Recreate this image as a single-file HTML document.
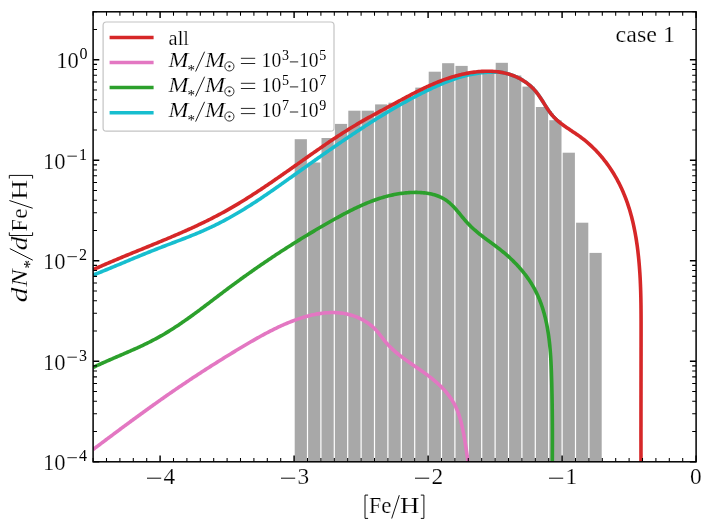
<!DOCTYPE html>
<html><head><meta charset="utf-8"><title>plot</title>
<style>
html,body{margin:0;padding:0;background:#fff;}
svg{display:block;will-change:transform;transform:translateZ(0);}
text{font-family:"Liberation Serif",serif;fill:#000;stroke:#fff;stroke-width:0.2px;}
.sm{stroke:none;}
.it{font-style:italic;}
</style></head><body>
<svg width="714" height="531" viewBox="0 0 714 531">
<rect x="0" y="0" width="714" height="531" fill="#fff"/>
<defs><clipPath id="ax"><rect x="93.10" y="11.80" width="603.00" height="450.00"/></clipPath></defs>
<g fill="#a8a8a8">
<rect x="294.70" y="139.20" width="12.20" height="322.60"/>
<rect x="308.10" y="162.50" width="12.20" height="299.30"/>
<rect x="321.50" y="138.00" width="12.20" height="323.80"/>
<rect x="334.90" y="123.90" width="12.20" height="337.90"/>
<rect x="348.30" y="110.70" width="12.20" height="351.10"/>
<rect x="361.70" y="110.70" width="12.20" height="351.10"/>
<rect x="375.10" y="104.40" width="12.20" height="357.40"/>
<rect x="388.50" y="102.70" width="12.20" height="359.10"/>
<rect x="401.90" y="97.00" width="12.20" height="364.80"/>
<rect x="415.30" y="87.60" width="12.20" height="374.20"/>
<rect x="428.70" y="71.70" width="12.20" height="390.10"/>
<rect x="442.10" y="63.20" width="12.20" height="398.60"/>
<rect x="455.50" y="65.90" width="12.20" height="395.90"/>
<rect x="468.90" y="72.50" width="12.20" height="389.30"/>
<rect x="482.30" y="71.50" width="12.20" height="390.30"/>
<rect x="495.70" y="62.80" width="12.20" height="399.00"/>
<rect x="509.10" y="75.50" width="12.20" height="386.30"/>
<rect x="522.50" y="86.60" width="12.20" height="375.20"/>
<rect x="535.90" y="107.00" width="12.20" height="354.80"/>
<rect x="549.30" y="120.20" width="12.20" height="341.60"/>
<rect x="562.70" y="152.70" width="12.20" height="309.10"/>
<rect x="576.10" y="222.70" width="12.20" height="239.10"/>
<rect x="589.50" y="252.90" width="12.20" height="208.90"/>
</g>
<g clip-path="url(#ax)" fill="none" stroke-width="3.6" stroke-linejoin="round" stroke-linecap="butt">
<path d="M93.10 449.50 L94.31 448.60 L95.51 447.69 L96.72 446.78 L97.93 445.88 L99.13 444.97 L100.33 444.07 L101.54 443.17 L102.74 442.26 L103.94 441.36 L105.15 440.46 L106.35 439.56 L107.55 438.66 L108.75 437.76 L109.95 436.86 L111.15 435.97 L112.35 435.07 L113.55 434.17 L114.75 433.28 L115.95 432.38 L117.15 431.49 L118.35 430.60 L119.55 429.71 L120.75 428.81 L121.95 427.92 L123.15 427.03 L124.35 426.15 L125.55 425.26 L126.75 424.37 L127.95 423.48 L129.15 422.60 L130.35 421.71 L131.56 420.83 L132.76 419.95 L133.96 419.07 L135.16 418.19 L136.37 417.31 L137.57 416.43 L138.77 415.55 L139.98 414.67 L141.18 413.79 L142.39 412.92 L143.60 412.04 L144.80 411.17 L146.01 410.30 L147.22 409.42 L148.43 408.55 L149.64 407.68 L150.85 406.81 L152.07 405.95 L153.28 405.08 L154.49 404.21 L155.71 403.35 L156.93 402.48 L158.14 401.62 L159.36 400.76 L160.58 399.89 L161.80 399.03 L163.02 398.18 L164.25 397.32 L165.47 396.46 L166.70 395.60 L167.93 394.75 L169.16 393.89 L170.39 393.04 L171.62 392.19 L172.85 391.34 L174.09 390.49 L175.32 389.64 L176.56 388.79 L177.80 387.94 L179.04 387.10 L180.28 386.25 L181.53 385.41 L182.77 384.57 L184.02 383.73 L185.27 382.89 L186.52 382.05 L187.78 381.21 L189.03 380.37 L190.29 379.54 L191.55 378.70 L192.81 377.87 L194.07 377.04 L195.33 376.21 L196.59 375.38 L197.86 374.56 L199.12 373.73 L200.39 372.91 L201.66 372.08 L202.92 371.26 L204.19 370.44 L205.46 369.63 L206.74 368.81 L208.01 368.00 L209.28 367.18 L210.55 366.37 L211.83 365.56 L213.10 364.76 L214.38 363.95 L215.65 363.15 L216.93 362.35 L218.20 361.55 L219.48 360.75 L220.75 359.96 L222.03 359.16 L223.31 358.37 L224.58 357.58 L225.86 356.79 L227.13 356.01 L228.41 355.23 L229.68 354.45 L230.96 353.67 L232.23 352.89 L233.51 352.12 L234.78 351.35 L236.05 350.58 L237.33 349.82 L238.60 349.05 L239.87 348.29 L241.14 347.53 L242.41 346.78 L243.68 346.02 L244.94 345.27 L246.21 344.53 L247.48 343.78 L248.74 343.04 L250.01 342.30 L251.27 341.56 L252.54 340.83 L253.81 340.10 L255.07 339.37 L256.35 338.65 L257.62 337.93 L258.90 337.21 L260.17 336.50 L261.46 335.79 L262.75 335.09 L264.04 334.39 L265.33 333.69 L266.64 333.00 L267.94 332.32 L269.26 331.63 L270.58 330.96 L271.90 330.28 L273.24 329.61 L274.58 328.95 L275.93 328.29 L277.29 327.64 L278.66 326.99 L280.04 326.35 L281.42 325.72 L282.81 325.09 L284.21 324.47 L285.62 323.86 L287.03 323.26 L288.45 322.67 L289.87 322.09 L291.30 321.53 L292.74 320.97 L294.18 320.42 L295.62 319.89 L297.08 319.37 L298.53 318.87 L299.99 318.38 L301.45 317.91 L302.92 317.45 L304.39 317.01 L305.86 316.58 L307.34 316.18 L308.81 315.79 L310.29 315.42 L311.78 315.07 L313.26 314.74 L314.74 314.43 L316.23 314.14 L317.71 313.88 L319.20 313.63 L320.68 313.41 L322.17 313.22 L323.66 313.05 L325.14 312.90 L326.62 312.78 L328.11 312.68 L329.59 312.61 L331.06 312.57 L332.54 312.56 L334.01 312.57 L335.48 312.62 L336.95 312.69 L338.41 312.79 L339.87 312.93 L341.33 313.10 L342.78 313.30 L344.23 313.53 L345.67 313.79 L347.11 314.09 L348.54 314.42 L349.96 314.79 L351.38 315.19 L352.80 315.63 L354.20 316.11 L355.60 316.62 L356.98 317.17 L358.35 317.75 L359.71 318.37 L361.05 319.02 L362.38 319.71 L363.69 320.43 L364.98 321.19 L366.25 321.98 L367.49 322.81 L368.72 323.67 L369.92 324.56 L371.09 325.49 L372.24 326.46 L373.35 327.46 L374.44 328.49 L375.50 329.55 L376.52 330.65 L377.51 331.78 L378.48 332.94 L379.42 334.11 L380.35 335.30 L381.27 336.50 L382.19 337.70 L383.11 338.90 L384.04 340.09 L384.99 341.25 L385.95 342.40 L386.94 343.53 L387.94 344.63 L388.96 345.72 L390.01 346.78 L391.07 347.83 L392.14 348.85 L393.23 349.86 L394.34 350.86 L395.46 351.84 L396.60 352.80 L397.75 353.75 L398.90 354.69 L400.08 355.61 L401.26 356.53 L402.45 357.43 L403.65 358.33 L404.85 359.22 L406.07 360.10 L407.29 360.97 L408.51 361.84 L409.74 362.70 L410.98 363.56 L412.21 364.42 L413.45 365.27 L414.69 366.12 L415.94 366.97 L417.18 367.83 L418.42 368.68 L419.66 369.54 L420.89 370.40 L422.12 371.26 L423.35 372.13 L424.58 373.00 L425.79 373.88 L427.00 374.77 L428.21 375.67 L429.40 376.57 L430.59 377.49 L431.77 378.41 L432.93 379.35 L434.09 380.30 L435.23 381.27 L436.36 382.25 L437.47 383.24 L438.58 384.25 L439.66 385.28 L440.73 386.32 L441.78 387.38 L442.82 388.45 L443.83 389.54 L444.83 390.64 L445.80 391.76 L446.75 392.90 L447.68 394.06 L448.59 395.23 L449.48 396.42 L450.34 397.62 L451.17 398.85 L451.98 400.09 L452.76 401.35 L453.51 402.62 L454.23 403.92 L454.93 405.23 L455.59 406.56 L456.22 407.91 L456.82 409.28 L457.39 410.67 L457.94 412.07 L458.45 413.48 L458.94 414.91 L459.41 416.35 L459.85 417.80 L460.28 419.25 L460.68 420.72 L461.07 422.19 L461.44 423.67 L461.79 425.14 L462.13 426.62 L462.46 428.10 L462.78 429.59 L463.09 431.07 L463.39 432.55 L463.67 434.03 L463.95 435.51 L464.22 437.00 L464.49 438.48 L464.74 439.96 L464.99 441.44 L465.23 442.92 L465.47 444.40 L465.70 445.88 L465.93 447.36 L466.15 448.84 L466.38 450.32 L466.59 451.80 L466.81 453.27 L467.03 454.75 L467.24 456.22 L467.45 457.69 L467.67 459.16 L467.88 460.63 L468.10 462.10" stroke="#e377c2"/>
<path d="M93.10 367.40 L94.45 366.76 L95.81 366.12 L97.17 365.49 L98.53 364.86 L99.90 364.24 L101.26 363.63 L102.63 363.01 L104.00 362.40 L105.37 361.79 L106.75 361.19 L108.12 360.59 L109.49 359.99 L110.87 359.39 L112.24 358.80 L113.62 358.20 L115.00 357.61 L116.38 357.02 L117.75 356.42 L119.13 355.83 L120.51 355.24 L121.88 354.65 L123.26 354.06 L124.63 353.46 L126.01 352.87 L127.38 352.27 L128.75 351.67 L130.13 351.07 L131.49 350.46 L132.86 349.86 L134.23 349.25 L135.59 348.63 L136.96 348.02 L138.31 347.40 L139.67 346.77 L141.03 346.14 L142.38 345.51 L143.73 344.86 L145.07 344.22 L146.42 343.57 L147.76 342.91 L149.09 342.25 L150.43 341.57 L151.75 340.90 L153.08 340.21 L154.40 339.52 L155.72 338.82 L157.03 338.11 L158.34 337.39 L159.64 336.66 L160.94 335.93 L162.23 335.19 L163.52 334.44 L164.81 333.68 L166.09 332.91 L167.37 332.14 L168.64 331.36 L169.91 330.57 L171.18 329.77 L172.44 328.97 L173.70 328.17 L174.95 327.35 L176.21 326.53 L177.46 325.71 L178.70 324.88 L179.94 324.04 L181.18 323.20 L182.42 322.35 L183.66 321.50 L184.89 320.64 L186.12 319.78 L187.34 318.92 L188.57 318.05 L189.79 317.17 L191.01 316.30 L192.23 315.42 L193.45 314.53 L194.66 313.65 L195.87 312.76 L197.08 311.86 L198.29 310.97 L199.50 310.07 L200.71 309.17 L201.91 308.27 L203.12 307.36 L204.32 306.46 L205.52 305.55 L206.72 304.65 L207.92 303.74 L209.12 302.83 L210.32 301.92 L211.52 301.01 L212.72 300.09 L213.92 299.18 L215.11 298.27 L216.31 297.36 L217.51 296.45 L218.71 295.54 L219.90 294.64 L221.10 293.73 L222.30 292.82 L223.50 291.92 L224.70 291.01 L225.90 290.11 L227.10 289.21 L228.30 288.32 L229.50 287.42 L230.71 286.53 L231.91 285.64 L233.12 284.75 L234.32 283.86 L235.53 282.98 L236.73 282.10 L237.94 281.22 L239.15 280.34 L240.36 279.46 L241.57 278.58 L242.78 277.71 L244.00 276.84 L245.21 275.97 L246.42 275.11 L247.64 274.24 L248.86 273.38 L250.07 272.52 L251.29 271.66 L252.51 270.80 L253.73 269.94 L254.96 269.09 L256.18 268.24 L257.40 267.39 L258.63 266.54 L259.85 265.70 L261.08 264.85 L262.31 264.01 L263.54 263.17 L264.77 262.33 L266.00 261.50 L267.24 260.66 L268.47 259.83 L269.71 259.00 L270.95 258.17 L272.18 257.34 L273.42 256.52 L274.67 255.69 L275.91 254.87 L277.15 254.05 L278.40 253.24 L279.64 252.42 L280.89 251.61 L282.14 250.79 L283.39 249.98 L284.65 249.18 L285.90 248.37 L287.15 247.56 L288.41 246.76 L289.67 245.96 L290.93 245.16 L292.19 244.36 L293.45 243.57 L294.72 242.77 L295.99 241.98 L297.25 241.19 L298.52 240.40 L299.79 239.62 L301.07 238.83 L302.34 238.05 L303.62 237.27 L304.89 236.49 L306.17 235.71 L307.45 234.93 L308.74 234.16 L310.02 233.38 L311.31 232.61 L312.60 231.84 L313.89 231.08 L315.18 230.31 L316.47 229.55 L317.77 228.78 L319.07 228.02 L320.36 227.26 L321.67 226.51 L322.97 225.75 L324.27 225.00 L325.58 224.24 L326.89 223.49 L328.20 222.74 L329.51 222.00 L330.83 221.25 L332.14 220.51 L333.46 219.76 L334.78 219.03 L336.11 218.29 L337.43 217.56 L338.76 216.83 L340.09 216.10 L341.42 215.38 L342.76 214.66 L344.09 213.95 L345.43 213.24 L346.77 212.54 L348.12 211.85 L349.47 211.16 L350.82 210.48 L352.17 209.80 L353.52 209.13 L354.88 208.48 L356.24 207.82 L357.61 207.18 L358.97 206.55 L360.34 205.92 L361.72 205.31 L363.09 204.70 L364.47 204.10 L365.85 203.52 L367.24 202.95 L368.63 202.38 L370.02 201.83 L371.41 201.29 L372.81 200.77 L374.22 200.25 L375.62 199.75 L377.03 199.26 L378.44 198.79 L379.86 198.33 L381.28 197.88 L382.70 197.45 L384.13 197.04 L385.56 196.64 L387.00 196.25 L388.44 195.88 L389.88 195.53 L391.33 195.20 L392.78 194.88 L394.23 194.58 L395.69 194.30 L397.15 194.03 L398.62 193.79 L400.09 193.56 L401.57 193.35 L403.05 193.17 L404.54 193.00 L406.03 192.85 L407.52 192.72 L409.02 192.62 L410.52 192.54 L412.03 192.47 L413.54 192.43 L415.06 192.42 L416.57 192.42 L418.09 192.46 L419.61 192.52 L421.13 192.60 L422.64 192.72 L424.14 192.87 L425.64 193.04 L427.13 193.26 L428.61 193.50 L430.08 193.78 L431.53 194.10 L432.97 194.45 L434.40 194.84 L435.80 195.27 L437.19 195.75 L438.55 196.26 L439.89 196.82 L441.21 197.43 L442.50 198.08 L443.76 198.78 L445.00 199.52 L446.20 200.32 L447.37 201.16 L448.52 202.06 L449.63 202.99 L450.72 203.97 L451.79 204.98 L452.84 206.02 L453.87 207.10 L454.89 208.20 L455.89 209.32 L456.88 210.46 L457.86 211.61 L458.84 212.78 L459.81 213.95 L460.78 215.13 L461.75 216.31 L462.72 217.49 L463.70 218.66 L464.69 219.83 L465.68 220.98 L466.69 222.11 L467.71 223.22 L468.74 224.31 L469.79 225.38 L470.86 226.43 L471.94 227.46 L473.03 228.47 L474.14 229.47 L475.25 230.45 L476.38 231.41 L477.51 232.36 L478.66 233.30 L479.81 234.23 L480.97 235.15 L482.14 236.05 L483.32 236.96 L484.50 237.85 L485.68 238.74 L486.87 239.62 L488.06 240.51 L489.25 241.39 L490.45 242.27 L491.64 243.15 L492.84 244.03 L494.03 244.92 L495.22 245.80 L496.42 246.70 L497.60 247.60 L498.79 248.51 L499.96 249.43 L501.14 250.35 L502.31 251.29 L503.47 252.24 L504.62 253.21 L505.76 254.18 L506.90 255.17 L508.03 256.17 L509.15 257.18 L510.26 258.21 L511.36 259.25 L512.45 260.30 L513.52 261.36 L514.59 262.43 L515.65 263.51 L516.69 264.61 L517.72 265.71 L518.74 266.83 L519.74 267.96 L520.73 269.10 L521.71 270.25 L522.67 271.41 L523.62 272.58 L524.55 273.76 L525.46 274.96 L526.36 276.16 L527.25 277.37 L528.11 278.59 L528.96 279.82 L529.79 281.06 L530.60 282.31 L531.39 283.57 L532.17 284.84 L532.92 286.12 L533.65 287.41 L534.37 288.70 L535.06 290.01 L535.74 291.32 L536.39 292.64 L537.03 293.97 L537.65 295.31 L538.24 296.65 L538.83 298.01 L539.39 299.37 L539.93 300.73 L540.46 302.11 L540.97 303.49 L541.47 304.88 L541.95 306.27 L542.41 307.67 L542.86 309.08 L543.29 310.50 L543.70 311.92 L544.11 313.34 L544.49 314.77 L544.87 316.21 L545.23 317.65 L545.57 319.10 L545.90 320.55 L546.22 322.00 L546.53 323.46 L546.82 324.93 L547.10 326.40 L547.37 327.87 L547.63 329.35 L547.88 330.83 L548.11 332.31 L548.34 333.80 L548.56 335.29 L548.76 336.78 L548.96 338.28 L549.14 339.78 L549.32 341.28 L549.49 342.79 L549.65 344.29 L549.80 345.80 L549.94 347.31 L550.07 348.82 L550.20 350.33 L550.32 351.85 L550.44 353.36 L550.54 354.88 L550.65 356.40 L550.74 357.91 L550.83 359.43 L550.92 360.95 L551.00 362.47 L551.07 363.99 L551.14 365.51 L551.21 367.02 L551.27 368.54 L551.33 370.06 L551.38 371.57 L551.44 373.09 L551.49 374.60 L551.54 376.11 L551.58 377.62 L551.63 379.13 L551.67 380.64 L551.71 382.14 L551.75 383.64 L551.79 385.14 L551.83 386.64 L551.86 388.14 L551.90 389.63 L551.93 391.13 L551.96 392.62 L552.00 394.11 L552.03 395.60 L552.05 397.09 L552.08 398.58 L552.11 400.07 L552.13 401.55 L552.16 403.04 L552.18 404.53 L552.20 406.01 L552.22 407.49 L552.24 408.98 L552.26 410.46 L552.28 411.94 L552.29 413.43 L552.31 414.91 L552.32 416.39 L552.34 417.87 L552.35 419.36 L552.36 420.84 L552.37 422.32 L552.38 423.81 L552.39 425.29 L552.39 426.78 L552.40 428.26 L552.40 429.75 L552.41 431.23 L552.41 432.72 L552.41 434.21 L552.41 435.70 L552.41 437.19 L552.41 438.68 L552.41 440.18 L552.41 441.67 L552.41 443.17 L552.40 444.67 L552.40 446.17 L552.39 447.67 L552.39 449.17 L552.38 450.68 L552.37 452.19 L552.37 453.70 L552.36 455.21 L552.35 456.72 L552.34 458.24 L552.32 459.76 L552.31 461.28 L552.30 462.80" stroke="#2ca02c"/>
<path d="M93.10 275.10 L94.50 274.55 L95.89 273.99 L97.29 273.43 L98.68 272.87 L100.08 272.31 L101.47 271.74 L102.86 271.18 L104.25 270.61 L105.64 270.04 L107.02 269.47 L108.41 268.90 L109.80 268.33 L111.18 267.76 L112.57 267.18 L113.95 266.61 L115.34 266.03 L116.72 265.46 L118.10 264.88 L119.48 264.30 L120.87 263.73 L122.25 263.15 L123.63 262.57 L125.01 261.99 L126.39 261.42 L127.78 260.84 L129.16 260.26 L130.54 259.69 L131.92 259.11 L133.31 258.54 L134.69 257.96 L136.07 257.39 L137.46 256.82 L138.84 256.25 L140.22 255.68 L141.61 255.11 L143.00 254.54 L144.38 253.97 L145.77 253.41 L147.16 252.85 L148.55 252.28 L149.94 251.73 L151.33 251.17 L152.72 250.61 L154.12 250.06 L155.51 249.51 L156.91 248.96 L158.31 248.41 L159.71 247.87 L161.11 247.33 L162.51 246.79 L163.91 246.25 L165.32 245.72 L166.72 245.18 L168.12 244.65 L169.53 244.11 L170.93 243.58 L172.34 243.04 L173.75 242.51 L175.15 241.98 L176.56 241.44 L177.96 240.91 L179.36 240.37 L180.77 239.83 L182.17 239.29 L183.57 238.75 L184.97 238.20 L186.37 237.66 L187.77 237.11 L189.17 236.55 L190.56 236.00 L191.95 235.44 L193.35 234.87 L194.73 234.31 L196.12 233.73 L197.51 233.16 L198.89 232.58 L200.27 231.99 L201.64 231.40 L203.02 230.80 L204.39 230.20 L205.76 229.59 L207.12 228.97 L208.48 228.35 L209.84 227.72 L211.20 227.08 L212.55 226.44 L213.89 225.79 L215.24 225.13 L216.58 224.47 L217.92 223.80 L219.25 223.12 L220.58 222.44 L221.91 221.75 L223.23 221.05 L224.55 220.35 L225.87 219.64 L227.19 218.93 L228.50 218.21 L229.81 217.49 L231.11 216.76 L232.42 216.02 L233.72 215.28 L235.01 214.53 L236.31 213.78 L237.60 213.03 L238.89 212.26 L240.17 211.50 L241.46 210.72 L242.74 209.95 L244.01 209.17 L245.29 208.38 L246.56 207.59 L247.83 206.79 L249.10 206.00 L250.37 205.19 L251.63 204.38 L252.89 203.57 L254.15 202.76 L255.41 201.94 L256.66 201.12 L257.91 200.29 L259.16 199.46 L260.41 198.63 L261.66 197.79 L262.91 196.95 L264.15 196.11 L265.39 195.27 L266.63 194.42 L267.87 193.57 L269.11 192.72 L270.34 191.87 L271.58 191.02 L272.81 190.16 L274.05 189.30 L275.28 188.44 L276.51 187.58 L277.74 186.71 L278.96 185.85 L280.19 184.98 L281.42 184.12 L282.64 183.25 L283.87 182.38 L285.09 181.51 L286.32 180.64 L287.54 179.77 L288.76 178.90 L289.99 178.03 L291.21 177.16 L292.43 176.29 L293.65 175.42 L294.87 174.55 L296.09 173.68 L297.31 172.81 L298.54 171.94 L299.76 171.07 L300.98 170.21 L302.20 169.34 L303.42 168.47 L304.64 167.60 L305.86 166.73 L307.08 165.87 L308.30 165.00 L309.52 164.14 L310.74 163.27 L311.97 162.40 L313.19 161.54 L314.41 160.68 L315.63 159.81 L316.85 158.95 L318.08 158.09 L319.30 157.23 L320.53 156.37 L321.75 155.51 L322.97 154.65 L324.20 153.79 L325.43 152.93 L326.65 152.08 L327.88 151.22 L329.11 150.37 L330.34 149.51 L331.57 148.66 L332.80 147.81 L334.03 146.96 L335.26 146.11 L336.49 145.26 L337.73 144.41 L338.96 143.56 L340.20 142.72 L341.43 141.88 L342.67 141.03 L343.91 140.19 L345.15 139.35 L346.39 138.51 L347.63 137.67 L348.87 136.84 L350.12 136.00 L351.36 135.17 L352.61 134.33 L353.86 133.50 L355.11 132.67 L356.36 131.85 L357.61 131.02 L358.86 130.19 L360.12 129.37 L361.37 128.55 L362.63 127.73 L363.89 126.91 L365.15 126.10 L366.41 125.28 L367.68 124.47 L368.94 123.66 L370.21 122.85 L371.48 122.04 L372.75 121.24 L374.02 120.44 L375.29 119.64 L376.57 118.84 L377.84 118.05 L379.12 117.26 L380.40 116.47 L381.68 115.68 L382.97 114.90 L384.25 114.12 L385.54 113.34 L386.82 112.56 L388.11 111.79 L389.40 111.02 L390.70 110.25 L391.99 109.49 L393.29 108.73 L394.59 107.97 L395.89 107.22 L397.19 106.47 L398.49 105.72 L399.80 104.98 L401.11 104.24 L402.41 103.51 L403.73 102.77 L405.04 102.05 L406.35 101.32 L407.67 100.60 L408.99 99.88 L410.31 99.17 L411.63 98.46 L412.95 97.76 L414.28 97.06 L415.61 96.36 L416.94 95.67 L418.27 94.99 L419.60 94.30 L420.94 93.62 L422.28 92.95 L423.62 92.28 L424.96 91.62 L426.30 90.96 L427.65 90.30 L429.00 89.65 L430.35 89.01 L431.70 88.37 L433.05 87.74 L434.41 87.11 L435.77 86.49 L437.13 85.88 L438.50 85.27 L439.86 84.67 L441.23 84.08 L442.61 83.50 L443.98 82.93 L445.36 82.37 L446.75 81.82 L448.13 81.28 L449.53 80.75 L450.92 80.23 L452.32 79.72 L453.72 79.23 L455.13 78.75 L456.54 78.28 L457.95 77.83 L459.37 77.39 L460.79 76.96 L462.22 76.56 L463.65 76.16 L465.09 75.78 L466.53 75.42 L467.98 75.07 L469.43 74.75 L470.89 74.44 L472.36 74.14 L473.83 73.87 L475.30 73.62 L476.78 73.38 L478.27 73.16 L479.76 72.97 L481.26 72.79 L482.76 72.64 L484.27 72.51 L485.79 72.40 L487.31 72.31 L488.84 72.25 L490.38 72.21 L491.92 72.19 L493.46 72.20 L495.00 72.24 L496.55 72.31 L498.40 71.91 L499.88 72.12 L501.36 72.36 L502.82 72.63 L504.28 72.94 L505.73 73.27 L507.17 73.64 L508.59 74.04 L510.01 74.48 L511.41 74.95 L512.80 75.45 L514.18 75.99 L515.54 76.56 L516.89 77.16 L518.22 77.80 L519.53 78.47 L520.82 79.17 L522.10 79.90 L523.35 80.67 L524.58 81.47 L525.79 82.30 L526.98 83.16 L528.15 84.06 L529.29 84.99 L530.40 85.95 L531.49 86.94 L532.55 87.96 L533.59 89.02 L534.59 90.10 L535.57 91.22 L536.51 92.37 L537.43 93.55 L538.32 94.75 L539.18 95.98 L540.03 97.22 L540.87 98.49 L541.69 99.76 L542.50 101.04 L543.31 102.33 L544.12 103.62 L544.92 104.91 L545.73 106.19 L546.55 107.47 L547.38 108.74 L548.23 109.99 L549.09 111.22 L549.98 112.43 L550.88 113.62 L551.82 114.78 L552.79 115.91 L553.79 117.01 L554.82 118.07 L555.88 119.10 L556.97 120.11 L558.09 121.09 L559.23 122.05" stroke="#17becf"/>
<path d="M93.10 269.70 L94.46 269.08 L95.83 268.47 L97.19 267.86 L98.56 267.25 L99.93 266.65 L101.30 266.04 L102.67 265.44 L104.04 264.85 L105.41 264.25 L106.79 263.66 L108.16 263.07 L109.54 262.48 L110.92 261.89 L112.30 261.31 L113.68 260.72 L115.06 260.14 L116.44 259.56 L117.83 258.98 L119.21 258.41 L120.60 257.83 L121.98 257.25 L123.37 256.68 L124.75 256.11 L126.14 255.54 L127.53 254.97 L128.92 254.40 L130.31 253.83 L131.70 253.26 L133.09 252.70 L134.48 252.13 L135.87 251.56 L137.26 251.00 L138.65 250.43 L140.04 249.86 L141.43 249.30 L142.82 248.73 L144.22 248.17 L145.61 247.60 L147.00 247.04 L148.39 246.47 L149.78 245.90 L151.17 245.34 L152.56 244.77 L153.95 244.20 L155.34 243.63 L156.73 243.06 L158.12 242.49 L159.51 241.92 L160.89 241.34 L162.28 240.77 L163.67 240.19 L165.05 239.62 L166.44 239.04 L167.82 238.46 L169.21 237.88 L170.59 237.29 L171.97 236.71 L173.35 236.12 L174.73 235.53 L176.11 234.94 L177.49 234.35 L178.86 233.75 L180.24 233.15 L181.61 232.55 L182.99 231.95 L184.36 231.35 L185.73 230.74 L187.10 230.13 L188.46 229.51 L189.83 228.90 L191.19 228.28 L192.56 227.66 L193.92 227.03 L195.27 226.40 L196.63 225.77 L197.99 225.13 L199.34 224.49 L200.69 223.85 L202.04 223.21 L203.39 222.56 L204.74 221.90 L206.08 221.24 L207.42 220.58 L208.76 219.92 L210.10 219.25 L211.43 218.57 L212.77 217.89 L214.10 217.21 L215.42 216.52 L216.75 215.83 L218.07 215.13 L219.39 214.43 L220.71 213.73 L222.02 213.01 L223.34 212.30 L224.65 211.58 L225.95 210.85 L227.26 210.12 L228.56 209.38 L229.86 208.64 L231.16 207.90 L232.45 207.15 L233.74 206.39 L235.03 205.63 L236.32 204.87 L237.61 204.11 L238.89 203.34 L240.17 202.56 L241.45 201.78 L242.73 201.00 L244.00 200.21 L245.28 199.42 L246.55 198.63 L247.82 197.83 L249.08 197.03 L250.35 196.23 L251.61 195.42 L252.87 194.61 L254.13 193.80 L255.39 192.99 L256.65 192.17 L257.90 191.35 L259.16 190.52 L260.41 189.69 L261.66 188.87 L262.91 188.03 L264.15 187.20 L265.40 186.36 L266.65 185.52 L267.89 184.68 L269.13 183.84 L270.37 183.00 L271.61 182.15 L272.85 181.30 L274.09 180.45 L275.33 179.60 L276.56 178.75 L277.80 177.89 L279.03 177.04 L280.26 176.18 L281.50 175.32 L282.73 174.46 L283.96 173.60 L285.19 172.74 L286.42 171.88 L287.65 171.02 L288.87 170.16 L290.10 169.29 L291.33 168.43 L292.56 167.56 L293.78 166.70 L295.01 165.83 L296.23 164.97 L297.46 164.10 L298.68 163.23 L299.91 162.37 L301.13 161.50 L302.36 160.64 L303.58 159.77 L304.80 158.91 L306.03 158.05 L307.25 157.18 L308.48 156.32 L309.70 155.46 L310.93 154.60 L312.15 153.74 L313.38 152.88 L314.60 152.02 L315.83 151.17 L317.05 150.31 L318.28 149.46 L319.51 148.61 L320.74 147.76 L321.97 146.91 L323.20 146.06 L324.44 145.21 L325.67 144.37 L326.90 143.53 L328.14 142.69 L329.38 141.85 L330.62 141.02 L331.86 140.19 L333.10 139.36 L334.35 138.53 L335.59 137.70 L336.84 136.88 L338.09 136.06 L339.35 135.25 L340.60 134.43 L341.86 133.62 L343.12 132.82 L344.38 132.01 L345.64 131.21 L346.91 130.42 L348.18 129.62 L349.45 128.83 L350.73 128.05 L352.01 127.26 L353.29 126.49 L354.57 125.71 L355.86 124.94 L357.15 124.17 L358.44 123.41 L359.74 122.65 L361.04 121.90 L362.34 121.15 L363.65 120.40 L364.96 119.66 L366.27 118.92 L367.58 118.18 L368.90 117.45 L370.21 116.72 L371.53 115.99 L372.85 115.26 L374.17 114.54 L375.49 113.82 L376.82 113.10 L378.14 112.38 L379.46 111.66 L380.79 110.94 L382.11 110.23 L383.44 109.51 L384.76 108.80 L386.09 108.08 L387.41 107.37 L388.74 106.66 L390.06 105.95 L391.38 105.23 L392.70 104.52 L394.02 103.80 L395.33 103.09 L396.65 102.38 L397.97 101.66 L399.28 100.95 L400.60 100.24 L401.91 99.53 L403.23 98.82 L404.54 98.12 L405.86 97.41 L407.18 96.71 L408.49 96.01 L409.81 95.32 L411.13 94.63 L412.45 93.94 L413.77 93.26 L415.09 92.58 L416.42 91.91 L417.74 91.24 L419.07 90.58 L420.40 89.92 L421.73 89.27 L423.07 88.62 L424.41 87.99 L425.75 87.36 L427.09 86.73 L428.44 86.11 L429.79 85.51 L431.14 84.91 L432.50 84.31 L433.86 83.73 L435.23 83.15 L436.59 82.59 L437.97 82.03 L439.35 81.49 L440.73 80.95 L442.12 80.43 L443.51 79.91 L444.91 79.41 L446.31 78.92 L447.72 78.44 L449.14 77.97 L450.56 77.51 L451.98 77.07 L453.42 76.64 L454.86 76.22 L456.30 75.82 L457.75 75.43 L459.21 75.05 L460.68 74.69 L462.15 74.34 L463.63 74.01 L465.12 73.69 L466.62 73.39 L468.12 73.11 L469.62 72.84 L471.13 72.59 L472.65 72.36 L474.16 72.15 L475.68 71.96 L477.20 71.79 L478.73 71.64 L480.25 71.52 L481.78 71.41 L483.30 71.33 L484.83 71.27 L486.35 71.24 L487.87 71.23 L489.39 71.24 L490.90 71.28 L492.41 71.35 L493.92 71.45 L495.42 71.57 L496.91 71.72 L498.40 71.91 L499.88 72.12 L501.36 72.36 L502.82 72.63 L504.28 72.94 L505.73 73.27 L507.17 73.64 L508.59 74.04 L510.01 74.48 L511.41 74.95 L512.80 75.45 L514.18 75.99 L515.54 76.56 L516.89 77.16 L518.22 77.80 L519.53 78.47 L520.82 79.17 L522.10 79.90 L523.35 80.67 L524.58 81.47 L525.79 82.30 L526.98 83.16 L528.15 84.06 L529.29 84.99 L530.40 85.95 L531.49 86.94 L532.55 87.96 L533.59 89.02 L534.59 90.10 L535.57 91.22 L536.51 92.37 L537.43 93.55 L538.32 94.75 L539.18 95.98 L540.03 97.22 L540.87 98.49 L541.69 99.76 L542.50 101.04 L543.31 102.33 L544.12 103.62 L544.92 104.91 L545.73 106.19 L546.55 107.47 L547.38 108.74 L548.23 109.99 L549.09 111.22 L549.98 112.43 L550.88 113.62 L551.82 114.78 L552.79 115.91 L553.79 117.01 L554.82 118.07 L555.88 119.10 L556.97 120.11 L558.09 121.09 L559.23 122.05 L560.39 122.98 L561.57 123.90 L562.77 124.80 L563.98 125.68 L565.21 126.55 L566.44 127.41 L567.69 128.27 L568.95 129.11 L570.21 129.95 L571.47 130.79 L572.73 131.63 L573.99 132.47 L575.25 133.32 L576.51 134.17 L577.75 135.03 L578.99 135.90 L580.22 136.79 L581.43 137.69 L582.63 138.60 L583.82 139.53 L584.99 140.47 L586.15 141.42 L587.30 142.39 L588.43 143.37 L589.55 144.37 L590.66 145.38 L591.75 146.40 L592.83 147.43 L593.90 148.48 L594.96 149.54 L596.00 150.61 L597.03 151.69 L598.04 152.79 L599.04 153.89 L600.03 155.01 L601.01 156.14 L601.97 157.28 L602.92 158.43 L603.85 159.59 L604.77 160.77 L605.68 161.95 L606.58 163.14 L607.46 164.35 L608.33 165.56 L609.19 166.78 L610.03 168.01 L610.86 169.25 L611.68 170.50 L612.48 171.76 L613.27 173.03 L614.05 174.30 L614.81 175.59 L615.56 176.88 L616.29 178.18 L617.02 179.49 L617.73 180.80 L618.42 182.12 L619.11 183.45 L619.78 184.79 L620.44 186.13 L621.08 187.48 L621.71 188.84 L622.33 190.20 L622.93 191.57 L623.52 192.95 L624.10 194.33 L624.66 195.71 L625.21 197.10 L625.75 198.50 L626.27 199.90 L626.79 201.31 L627.29 202.72 L627.77 204.14 L628.25 205.56 L628.71 206.98 L629.16 208.41 L629.60 209.84 L630.03 211.28 L630.45 212.72 L630.85 214.17 L631.25 215.61 L631.63 217.07 L632.00 218.52 L632.36 219.98 L632.72 221.44 L633.06 222.90 L633.39 224.37 L633.71 225.84 L634.03 227.31 L634.33 228.79 L634.62 230.26 L634.91 231.74 L635.19 233.22 L635.45 234.70 L635.71 236.19 L635.96 237.67 L636.20 239.16 L636.44 240.65 L636.66 242.14 L636.88 243.63 L637.09 245.12 L637.30 246.61 L637.49 248.10 L637.68 249.60 L637.87 251.09 L638.04 252.58 L638.21 254.08 L638.37 255.57 L638.53 257.06 L638.68 258.56 L638.83 260.05 L638.97 261.55 L639.10 263.04 L639.23 264.53 L639.35 266.03 L639.46 267.52 L639.57 269.02 L639.68 270.51 L639.78 272.01 L639.88 273.50 L639.97 274.99 L640.05 276.49 L640.14 277.98 L640.21 279.48 L640.29 280.97 L640.35 282.47 L640.42 283.96 L640.48 285.46 L640.54 286.96 L640.59 288.45 L640.64 289.95 L640.69 291.44 L640.73 292.94 L640.77 294.43 L640.81 295.93 L640.84 297.43 L640.87 298.92 L640.90 300.42 L640.92 301.92 L640.95 303.41 L640.97 304.91 L640.99 306.40 L641.00 307.90 L641.02 309.40 L641.03 310.90 L641.04 312.39 L641.05 313.89 L641.06 315.39 L641.06 316.88 L641.07 318.38 L641.07 319.88 L641.08 321.38 L641.08 322.87 L641.08 324.37 L641.08 325.87 L641.08 327.37 L641.08 328.86 L641.08 330.36 L641.08 331.86 L641.08 333.36 L641.08 334.86 L641.08 336.36 L641.07 337.85 L641.07 339.35 L641.07 340.85 L641.07 342.35 L641.07 343.85 L641.07 345.35 L641.07 346.85 L641.06 348.35 L641.06 349.85 L641.06 351.34 L641.06 352.84 L641.06 354.34 L641.06 355.84 L641.05 357.34 L641.05 358.84 L641.05 360.34 L641.05 361.84 L641.04 363.34 L641.04 364.84 L641.04 366.34 L641.04 367.84 L641.04 369.34 L641.03 370.84 L641.03 372.34 L641.03 373.84 L641.03 375.34 L641.02 376.84 L641.02 378.34 L641.02 379.84 L641.02 381.34 L641.01 382.84 L641.01 384.34 L641.01 385.84 L641.01 387.34 L641.01 388.84 L641.00 390.34 L641.00 391.84 L641.00 393.34 L641.00 394.84 L640.99 396.34 L640.99 397.84 L640.99 399.34 L640.99 400.84 L640.99 402.34 L640.98 403.84 L640.98 405.34 L640.98 406.84 L640.98 408.34 L640.98 409.84 L640.98 411.34 L640.97 412.84 L640.97 414.34 L640.97 415.84 L640.97 417.34 L640.97 418.84 L640.97 420.34 L640.97 421.84 L640.97 423.34 L640.97 424.84 L640.97 426.34 L640.96 427.84 L640.96 429.33 L640.96 430.83 L640.96 432.33 L640.96 433.83 L640.96 435.33 L640.96 436.83 L640.96 438.33 L640.96 439.83 L640.97 441.33 L640.97 442.83 L640.97 444.33 L640.97 445.83 L640.97 447.32 L640.97 448.82 L640.97 450.32 L640.97 451.82 L640.98 453.32 L640.98 454.82 L640.98 456.31 L640.98 457.81 L640.98 459.31 L640.99 460.81 L640.99 462.31 L640.99 463.80 L641.00 465.30 L641.00 466.80" stroke="#d62728"/>
</g>
<g stroke="#000" stroke-width="1.1" fill="none">
<path stroke-width="1.05" d="M93.10 461.80 v-3.90 M93.10 11.80 v3.90"/>
<path stroke-width="1.05" d="M106.50 461.80 v-3.90 M106.50 11.80 v3.90"/>
<path stroke-width="1.05" d="M119.90 461.80 v-3.90 M119.90 11.80 v3.90"/>
<path stroke-width="1.05" d="M133.30 461.80 v-3.90 M133.30 11.80 v3.90"/>
<path stroke-width="1.05" d="M146.70 461.80 v-3.90 M146.70 11.80 v3.90"/>
<path stroke-width="1.45" d="M160.10 461.80 v-6.20 M160.10 11.80 v6.20"/>
<path stroke-width="1.05" d="M173.50 461.80 v-3.90 M173.50 11.80 v3.90"/>
<path stroke-width="1.05" d="M186.90 461.80 v-3.90 M186.90 11.80 v3.90"/>
<path stroke-width="1.05" d="M200.30 461.80 v-3.90 M200.30 11.80 v3.90"/>
<path stroke-width="1.05" d="M213.70 461.80 v-3.90 M213.70 11.80 v3.90"/>
<path stroke-width="1.05" d="M227.10 461.80 v-3.90 M227.10 11.80 v3.90"/>
<path stroke-width="1.05" d="M240.50 461.80 v-3.90 M240.50 11.80 v3.90"/>
<path stroke-width="1.05" d="M253.90 461.80 v-3.90 M253.90 11.80 v3.90"/>
<path stroke-width="1.05" d="M267.30 461.80 v-3.90 M267.30 11.80 v3.90"/>
<path stroke-width="1.05" d="M280.70 461.80 v-3.90 M280.70 11.80 v3.90"/>
<path stroke-width="1.45" d="M294.10 461.80 v-6.20 M294.10 11.80 v6.20"/>
<path stroke-width="1.05" d="M307.50 461.80 v-3.90 M307.50 11.80 v3.90"/>
<path stroke-width="1.05" d="M320.90 461.80 v-3.90 M320.90 11.80 v3.90"/>
<path stroke-width="1.05" d="M334.30 461.80 v-3.90 M334.30 11.80 v3.90"/>
<path stroke-width="1.05" d="M347.70 461.80 v-3.90 M347.70 11.80 v3.90"/>
<path stroke-width="1.05" d="M361.10 461.80 v-3.90 M361.10 11.80 v3.90"/>
<path stroke-width="1.05" d="M374.50 461.80 v-3.90 M374.50 11.80 v3.90"/>
<path stroke-width="1.05" d="M387.90 461.80 v-3.90 M387.90 11.80 v3.90"/>
<path stroke-width="1.05" d="M401.30 461.80 v-3.90 M401.30 11.80 v3.90"/>
<path stroke-width="1.05" d="M414.70 461.80 v-3.90 M414.70 11.80 v3.90"/>
<path stroke-width="1.45" d="M428.10 461.80 v-6.20 M428.10 11.80 v6.20"/>
<path stroke-width="1.05" d="M441.50 461.80 v-3.90 M441.50 11.80 v3.90"/>
<path stroke-width="1.05" d="M454.90 461.80 v-3.90 M454.90 11.80 v3.90"/>
<path stroke-width="1.05" d="M468.30 461.80 v-3.90 M468.30 11.80 v3.90"/>
<path stroke-width="1.05" d="M481.70 461.80 v-3.90 M481.70 11.80 v3.90"/>
<path stroke-width="1.05" d="M495.10 461.80 v-3.90 M495.10 11.80 v3.90"/>
<path stroke-width="1.05" d="M508.50 461.80 v-3.90 M508.50 11.80 v3.90"/>
<path stroke-width="1.05" d="M521.90 461.80 v-3.90 M521.90 11.80 v3.90"/>
<path stroke-width="1.05" d="M535.30 461.80 v-3.90 M535.30 11.80 v3.90"/>
<path stroke-width="1.05" d="M548.70 461.80 v-3.90 M548.70 11.80 v3.90"/>
<path stroke-width="1.45" d="M562.10 461.80 v-6.20 M562.10 11.80 v6.20"/>
<path stroke-width="1.05" d="M575.50 461.80 v-3.90 M575.50 11.80 v3.90"/>
<path stroke-width="1.05" d="M588.90 461.80 v-3.90 M588.90 11.80 v3.90"/>
<path stroke-width="1.05" d="M602.30 461.80 v-3.90 M602.30 11.80 v3.90"/>
<path stroke-width="1.05" d="M615.70 461.80 v-3.90 M615.70 11.80 v3.90"/>
<path stroke-width="1.05" d="M629.10 461.80 v-3.90 M629.10 11.80 v3.90"/>
<path stroke-width="1.05" d="M642.50 461.80 v-3.90 M642.50 11.80 v3.90"/>
<path stroke-width="1.05" d="M655.90 461.80 v-3.90 M655.90 11.80 v3.90"/>
<path stroke-width="1.05" d="M669.30 461.80 v-3.90 M669.30 11.80 v3.90"/>
<path stroke-width="1.05" d="M682.70 461.80 v-3.90 M682.70 11.80 v3.90"/>
<path stroke-width="1.45" d="M696.10 461.80 v-6.20 M696.10 11.80 v6.20"/>
<path stroke-width="1.45" d="M93.10 461.80 h6.20 M696.10 461.80 h-6.20"/>
<path stroke-width="1.05" d="M93.10 431.54 h3.90 M696.10 431.54 h-3.90"/>
<path stroke-width="1.05" d="M93.10 413.84 h3.90 M696.10 413.84 h-3.90"/>
<path stroke-width="1.05" d="M93.10 401.29 h3.90 M696.10 401.29 h-3.90"/>
<path stroke-width="1.05" d="M93.10 391.55 h3.90 M696.10 391.55 h-3.90"/>
<path stroke-width="1.05" d="M93.10 383.59 h3.90 M696.10 383.59 h-3.90"/>
<path stroke-width="1.05" d="M93.10 376.86 h3.90 M696.10 376.86 h-3.90"/>
<path stroke-width="1.05" d="M93.10 371.03 h3.90 M696.10 371.03 h-3.90"/>
<path stroke-width="1.05" d="M93.10 365.89 h3.90 M696.10 365.89 h-3.90"/>
<path stroke-width="1.45" d="M93.10 361.29 h6.20 M696.10 361.29 h-6.20"/>
<path stroke-width="1.05" d="M93.10 331.03 h3.90 M696.10 331.03 h-3.90"/>
<path stroke-width="1.05" d="M93.10 313.33 h3.90 M696.10 313.33 h-3.90"/>
<path stroke-width="1.05" d="M93.10 300.78 h3.90 M696.10 300.78 h-3.90"/>
<path stroke-width="1.05" d="M93.10 291.03 h3.90 M696.10 291.03 h-3.90"/>
<path stroke-width="1.05" d="M93.10 283.08 h3.90 M696.10 283.08 h-3.90"/>
<path stroke-width="1.05" d="M93.10 276.35 h3.90 M696.10 276.35 h-3.90"/>
<path stroke-width="1.05" d="M93.10 270.52 h3.90 M696.10 270.52 h-3.90"/>
<path stroke-width="1.05" d="M93.10 265.38 h3.90 M696.10 265.38 h-3.90"/>
<path stroke-width="1.45" d="M93.10 260.78 h6.20 M696.10 260.78 h-6.20"/>
<path stroke-width="1.05" d="M93.10 230.52 h3.90 M696.10 230.52 h-3.90"/>
<path stroke-width="1.05" d="M93.10 212.82 h3.90 M696.10 212.82 h-3.90"/>
<path stroke-width="1.05" d="M93.10 200.26 h3.90 M696.10 200.26 h-3.90"/>
<path stroke-width="1.05" d="M93.10 190.52 h3.90 M696.10 190.52 h-3.90"/>
<path stroke-width="1.05" d="M93.10 182.57 h3.90 M696.10 182.57 h-3.90"/>
<path stroke-width="1.05" d="M93.10 175.84 h3.90 M696.10 175.84 h-3.90"/>
<path stroke-width="1.05" d="M93.10 170.01 h3.90 M696.10 170.01 h-3.90"/>
<path stroke-width="1.05" d="M93.10 164.87 h3.90 M696.10 164.87 h-3.90"/>
<path stroke-width="1.45" d="M93.10 160.27 h6.20 M696.10 160.27 h-6.20"/>
<path stroke-width="1.05" d="M93.10 130.01 h3.90 M696.10 130.01 h-3.90"/>
<path stroke-width="1.05" d="M93.10 112.31 h3.90 M696.10 112.31 h-3.90"/>
<path stroke-width="1.05" d="M93.10 99.75 h3.90 M696.10 99.75 h-3.90"/>
<path stroke-width="1.05" d="M93.10 90.01 h3.90 M696.10 90.01 h-3.90"/>
<path stroke-width="1.05" d="M93.10 82.05 h3.90 M696.10 82.05 h-3.90"/>
<path stroke-width="1.05" d="M93.10 75.33 h3.90 M696.10 75.33 h-3.90"/>
<path stroke-width="1.05" d="M93.10 69.50 h3.90 M696.10 69.50 h-3.90"/>
<path stroke-width="1.05" d="M93.10 64.36 h3.90 M696.10 64.36 h-3.90"/>
<path stroke-width="1.45" d="M93.10 59.76 h6.20 M696.10 59.76 h-6.20"/>
<path stroke-width="1.05" d="M93.10 29.50 h3.90 M696.10 29.50 h-3.90"/>
<path stroke-width="1.05" d="M93.10 11.80 h3.90 M696.10 11.80 h-3.90"/>
</g>
<rect x="93.10" y="11.80" width="603.00" height="450.00" fill="none" stroke="#000" stroke-width="1.5"/>
<text x="42.9" y="470.10" font-size="22.80" textLength="22.6" lengthAdjust="spacingAndGlyphs">10</text>
<path d="M67.40 457.70 H76.90" stroke="#000" stroke-width="0.85"/>
<text class="sm" x="78.9" y="461.10" font-size="16.00">4</text>
<text x="42.9" y="369.59" font-size="22.80" textLength="22.6" lengthAdjust="spacingAndGlyphs">10</text>
<path d="M67.40 357.19 H76.90" stroke="#000" stroke-width="0.85"/>
<text class="sm" x="78.9" y="360.59" font-size="16.00">3</text>
<text x="42.9" y="269.08" font-size="22.80" textLength="22.6" lengthAdjust="spacingAndGlyphs">10</text>
<path d="M67.40 256.68 H76.90" stroke="#000" stroke-width="0.85"/>
<text class="sm" x="78.9" y="260.08" font-size="16.00">2</text>
<text x="42.9" y="168.57" font-size="22.80" textLength="22.6" lengthAdjust="spacingAndGlyphs">10</text>
<path d="M67.40 156.17 H76.90" stroke="#000" stroke-width="0.85"/>
<text class="sm" x="78.9" y="159.57" font-size="16.00">1</text>
<text x="56.3" y="68.06" font-size="22.80" textLength="22.6" lengthAdjust="spacingAndGlyphs">10</text>
<text class="sm" x="79.6" y="59.06" font-size="16.00">0</text>
<path d="M147.00 478.20 H161.20" stroke="#000" stroke-width="0.95"/>
<text x="163.50" y="483.80" font-size="23.30">4</text>
<path d="M281.00 478.20 H295.20" stroke="#000" stroke-width="0.95"/>
<text x="297.50" y="483.80" font-size="23.30">3</text>
<path d="M415.00 478.20 H429.20" stroke="#000" stroke-width="0.95"/>
<text x="431.50" y="483.80" font-size="23.30">2</text>
<path d="M549.00 478.20 H563.20" stroke="#000" stroke-width="0.95"/>
<text x="565.50" y="483.80" font-size="23.30">1</text>
<text x="695.80" y="483.80" font-size="23.30" text-anchor="middle">0</text>
<path d="M368.10 495.10 H365.00 V518.40 H368.10" stroke="#000" stroke-width="0.95" fill="none"/>
<text x="369.00" y="512.80" font-size="23.00" textLength="12.20" lengthAdjust="spacingAndGlyphs">F</text>
<text x="381.30" y="512.80" font-size="23.00">e</text>
<path d="M391.70 518.50 L399.30 495.20" stroke="#000" stroke-width="0.95" fill="none"/>
<text x="400.10" y="512.80" font-size="23.00" textLength="19.40" lengthAdjust="spacingAndGlyphs">H</text>
<path d="M420.80 495.10 H423.90 V518.40 H420.80" stroke="#000" stroke-width="0.95" fill="none"/>
<g transform="translate(27,300.6) rotate(-90)">
<text x="-2.0" y="0" font-size="23.00" class="it" textLength="15.0" lengthAdjust="spacingAndGlyphs">d</text>
<text x="13.9" y="0" font-size="23.00" class="it" textLength="17.5" lengthAdjust="spacingAndGlyphs">N</text>
<text class="sm" x="32.2" y="8.2" font-size="17.00">*</text>
<path d="M40.4 5.8 L52.0 -17.2" stroke="#000" stroke-width="0.95" fill="none"/>
<text x="50.4" y="0" font-size="23.00" class="it" textLength="13.6" lengthAdjust="spacingAndGlyphs">d</text>
<path d="M68.27 -17.70 H65.11 V5.60 H68.27" stroke="#000" stroke-width="0.95" fill="none"/>
<text x="69.19" y="0.00" font-size="23.00" textLength="12.44" lengthAdjust="spacingAndGlyphs">F</text>
<text x="81.74" y="0.00" font-size="23.00">e</text>
<path d="M92.35 5.70 L100.10 -17.60" stroke="#000" stroke-width="0.95" fill="none"/>
<text x="100.91" y="0.00" font-size="23.00" textLength="19.79" lengthAdjust="spacingAndGlyphs">H</text>
<path d="M122.03 -17.70 H125.19 V5.60 H122.03" stroke="#000" stroke-width="0.95" fill="none"/>
</g>
<text x="615.6" y="41.6" font-size="22.30" textLength="59.4" lengthAdjust="spacingAndGlyphs">case 1</text>
<rect x="103.1" y="22.0" width="230.9" height="109.2" rx="3.2" ry="3.2" fill="#fff" fill-opacity="0.8" stroke="#c4c4c4" stroke-width="1.2"/>
<path d="M109.6 37.40 H153.6" stroke="#d62728" stroke-width="3.5" fill="none"/>
<path d="M109.6 62.50 H153.6" stroke="#e377c2" stroke-width="3.5" fill="none"/>
<path d="M109.6 87.60 H153.6" stroke="#2ca02c" stroke-width="3.5" fill="none"/>
<path d="M109.6 112.70 H153.6" stroke="#17becf" stroke-width="3.5" fill="none"/>
<text x="168.6" y="44.6" font-size="20.00" textLength="20.4" lengthAdjust="spacingAndGlyphs">all</text>
<g transform="translate(0,66.90)">
<text x="168.4" y="0" font-size="20.00" class="it" textLength="20.0" lengthAdjust="spacingAndGlyphs">M</text>
<text class="sm" x="187.4" y="7.6" font-size="15.00">*</text>
<path d="M195.6 4.6 L204.6 -15.2" stroke="#000" stroke-width="0.9" fill="none"/>
<text x="205.0" y="0" font-size="20.00" class="it" textLength="20.0" lengthAdjust="spacingAndGlyphs">M</text>
<circle cx="229.4" cy="-0.5" r="4.6" fill="none" stroke="#000" stroke-width="0.8"/><circle cx="229.4" cy="-0.5" r="1.1" fill="#000"/>
<path d="M240.9 -8.6 H255.2 M240.9 -3.4 H255.2" stroke="#000" stroke-width="0.85" fill="none"/>
<text x="261.6" y="0" font-size="20.00" textLength="19.6" lengthAdjust="spacingAndGlyphs">10</text>
<text class="sm" x="281.9" y="-7.4" font-size="14.00">3</text>
<path d="M289.9 -5.0 H298.2" stroke="#000" stroke-width="0.85" fill="none"/>
<text x="299.0" y="0" font-size="20.00" textLength="19.6" lengthAdjust="spacingAndGlyphs">10</text>
<text class="sm" x="319.2" y="-7.4" font-size="14.00">5</text>
</g>
<g transform="translate(0,91.90)">
<text x="168.4" y="0" font-size="20.00" class="it" textLength="20.0" lengthAdjust="spacingAndGlyphs">M</text>
<text class="sm" x="187.4" y="7.6" font-size="15.00">*</text>
<path d="M195.6 4.6 L204.6 -15.2" stroke="#000" stroke-width="0.9" fill="none"/>
<text x="205.0" y="0" font-size="20.00" class="it" textLength="20.0" lengthAdjust="spacingAndGlyphs">M</text>
<circle cx="229.4" cy="-0.5" r="4.6" fill="none" stroke="#000" stroke-width="0.8"/><circle cx="229.4" cy="-0.5" r="1.1" fill="#000"/>
<path d="M240.9 -8.6 H255.2 M240.9 -3.4 H255.2" stroke="#000" stroke-width="0.85" fill="none"/>
<text x="261.6" y="0" font-size="20.00" textLength="19.6" lengthAdjust="spacingAndGlyphs">10</text>
<text class="sm" x="281.9" y="-7.4" font-size="14.00">5</text>
<path d="M289.9 -5.0 H298.2" stroke="#000" stroke-width="0.85" fill="none"/>
<text x="299.0" y="0" font-size="20.00" textLength="19.6" lengthAdjust="spacingAndGlyphs">10</text>
<text class="sm" x="319.2" y="-7.4" font-size="14.00">7</text>
</g>
<g transform="translate(0,117.00)">
<text x="168.4" y="0" font-size="20.00" class="it" textLength="20.0" lengthAdjust="spacingAndGlyphs">M</text>
<text class="sm" x="187.4" y="7.6" font-size="15.00">*</text>
<path d="M195.6 4.6 L204.6 -15.2" stroke="#000" stroke-width="0.9" fill="none"/>
<text x="205.0" y="0" font-size="20.00" class="it" textLength="20.0" lengthAdjust="spacingAndGlyphs">M</text>
<circle cx="229.4" cy="-0.5" r="4.6" fill="none" stroke="#000" stroke-width="0.8"/><circle cx="229.4" cy="-0.5" r="1.1" fill="#000"/>
<path d="M240.9 -8.6 H255.2 M240.9 -3.4 H255.2" stroke="#000" stroke-width="0.85" fill="none"/>
<text x="261.6" y="0" font-size="20.00" textLength="19.6" lengthAdjust="spacingAndGlyphs">10</text>
<text class="sm" x="281.9" y="-7.4" font-size="14.00">7</text>
<path d="M289.9 -5.0 H298.2" stroke="#000" stroke-width="0.85" fill="none"/>
<text x="299.0" y="0" font-size="20.00" textLength="19.6" lengthAdjust="spacingAndGlyphs">10</text>
<text class="sm" x="319.2" y="-7.4" font-size="14.00">9</text>
</g>
</svg></body></html>
